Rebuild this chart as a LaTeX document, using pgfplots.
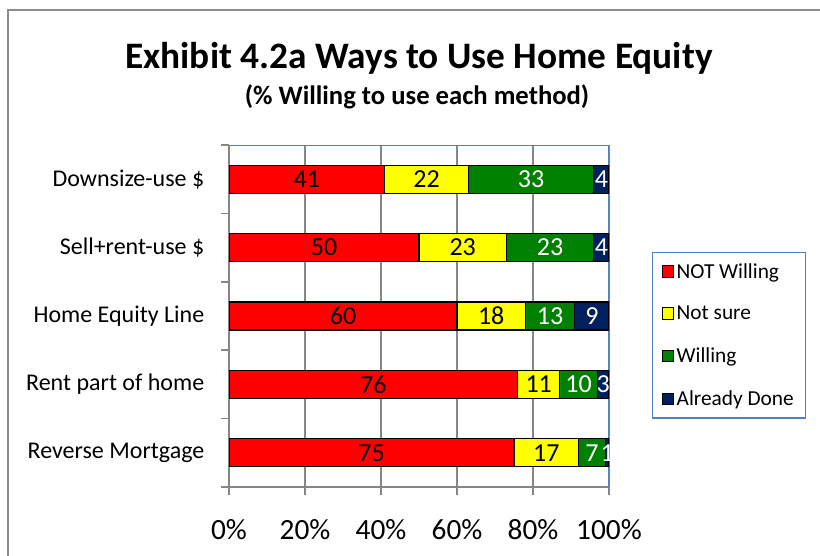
\documentclass[border=0pt]{standalone}
\usepackage{fontspec}
\setmainfont{Carlito}
\usepackage{pgfplots}
\pgfplotsset{compat=1.18}
\definecolor{notwill}{HTML}{FF0000}
\definecolor{notsure}{HTML}{FFFF00}
\definecolor{will}{HTML}{008000}
\definecolor{done}{HTML}{002060}
\definecolor{axgray}{HTML}{868686}
\definecolor{boxblue}{HTML}{4F81BD}
\definecolor{framegray}{HTML}{8C8C8C}

\begin{document}
\begin{tikzpicture}
\path[use as bounding box] (0,0) rectangle (615pt,-417pt);
\draw[line width=1.1pt, framegray] (6pt,-420pt) -- (6pt,-7.5pt) -- (620pt,-7.5pt);
\node[font=\bfseries\fontsize{28}{32}\selectfont] at (314.25pt,-43.5pt) {Exhibit 4.2a Ways to Use Home Equity};
\node[font=\bfseries\fontsize{20}{24}\selectfont] at (312.75pt,-72.75pt) {(\% Willing to use each method)};
\begin{axis}[
    at={(171.75pt,-365.25pt)}, anchor=south west,
    scale only axis, width=285pt, height=256.5pt,
    xbar stacked, bar width=21pt,
    xmin=0, xmax=100, ymin=0.5, ymax=5.5,
    axis x line*=bottom, axis y line*=left,
    axis line style={-, draw=axgray, line width=1.1pt},
    tick align=outside, major tick length=6pt, minor tick length=6pt,
    tick style={axgray, line width=1.1pt},
    major y tick style={draw=none},
    xtick={0,20,...,100},
    xticklabels={0\%,20\%,40\%,60\%,80\%,100\%},
    ytick={1,2,3,4,5},
    yticklabels={Reverse Mortgage,Rent part of home,Home Equity Line,Sell+rent-use \$,Downsize-use \$},
    minor ytick={0.5,1.5,...,5.5},
    xmajorgrids, major x grid style={axgray, line width=1.1pt},
    yticklabel style={font=\fontsize{18}{21}\selectfont, xshift=-9pt},
    xticklabel style={font=\fontsize{22}{26}\selectfont, yshift=-15pt},
    legend cell align=left,
    legend style={at={(1.1132,0.6871)}, anchor=north west, draw=boxblue, line width=0.8pt,
        font=\fontsize{16}{19}\selectfont, row sep=15.5pt, inner xsep=7pt, inner ysep=6pt},
    legend image code/.code={\draw[#1,draw=black,line width=0.6pt] (0pt,-4pt) rectangle (8.5pt,4.5pt);},
    visualization depends on=rawx \as \rawx,
    nodes near coords={\pgfmathprintnumber[assume math mode=true]{\rawx}},
    every node near coord/.append style={anchor=center, font=\fontsize{19.5}{22}\selectfont},
]
\addplot[fill=notwill, draw=black, line width=0.9pt] coordinates {(75,1) (76,2) (60,3) (50,4) (41,5)};
\addplot[fill=notsure, draw=black, line width=0.9pt] coordinates {(17,1) (11,2) (18,3) (23,4) (22,5)};
\addplot[fill=will, draw=black, line width=0.9pt, nodes near coords style={text=white}] coordinates {(7,1) (10,2) (13,3) (23,4) (33,5)};
\addplot[fill=done, draw=black, line width=0.9pt, nodes near coords style={text=white}] coordinates {(1,1) (3,2) (9,3) (4,4) (4,5)};
\legend{NOT Willing,Not sure,Willing,Already Done}
\draw[boxblue, line width=0.8pt] (rel axis cs:0,1) -- (rel axis cs:1,1) -- (rel axis cs:1,0);
\end{axis}
\end{tikzpicture}
\end{document}
